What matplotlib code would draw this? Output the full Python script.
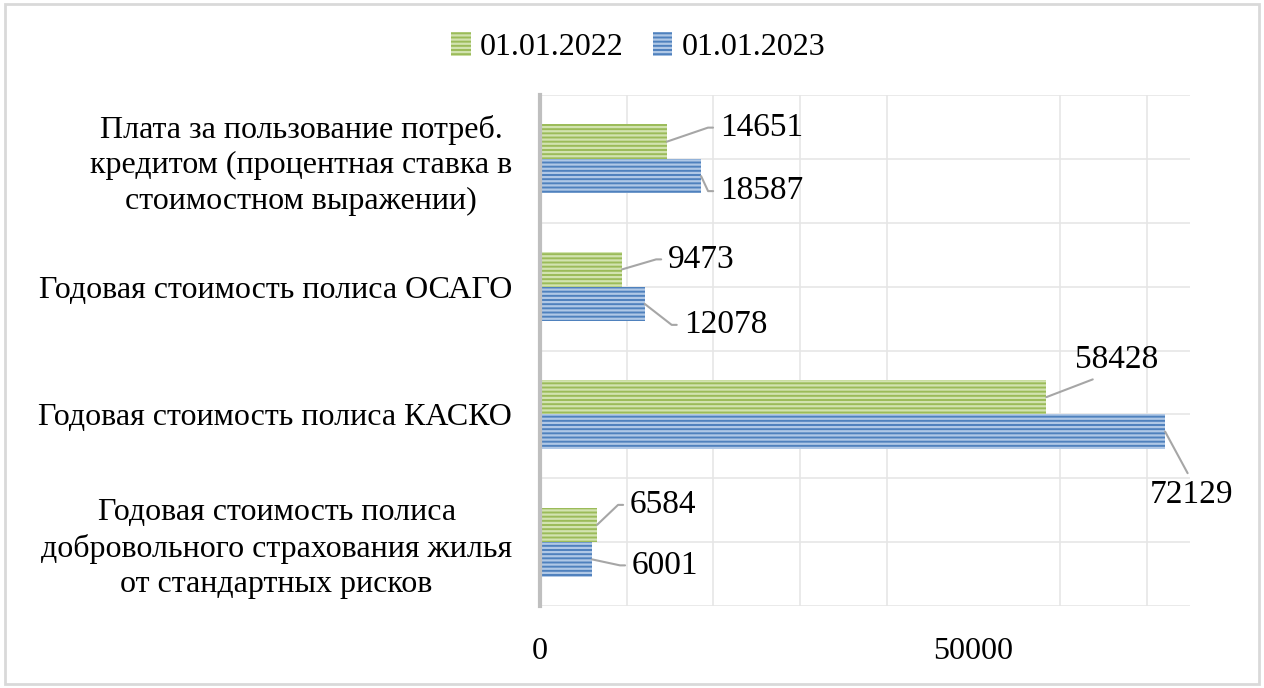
import math
import matplotlib.pyplot as plt
from matplotlib.patches import Rectangle
import numpy as np

plt.rcParams['font.family'] = ['Liberation Serif', 'DejaVu Serif']
plt.rcParams['hatch.linewidth'] = 1.6

categories = [
    "Годовая стоимость полиса\nдобровольного страхования жилья\nот стандартных рисков",
    "Годовая стоимость полиса КАСКО",
    "Годовая стоимость полиса ОСАГО",
    "Плата за пользование потреб.\nкредитом (процентная ставка в\nстоимостном выражении)",
]
series_names = ["01.01.2022", "01.01.2023"]
values_2022 = [6584, 58428, 9473, 14651]
values_2023 = [6001, 72129, 12078, 18587]

green, green_stripe = "#9bbb59", "#d2e3b0"
blue, blue_stripe = "#4f81bd", "#b0c8e6"

fig = plt.figure(figsize=(12.64, 6.88), dpi=100)
ax = fig.add_axes([540 / 1264, 1 - 606 / 688, 650 / 1264, 511 / 688])

y = np.arange(len(categories))
h = 0.27
b22 = ax.barh(y + h / 2, values_2022, height=h, color=green, edgecolor=green_stripe,
              linewidth=0, hatch="----", label=series_names[0], zorder=3)
b23 = ax.barh(y - h / 2, values_2023, height=h, color=blue, edgecolor=blue_stripe,
              linewidth=0, hatch="----", label=series_names[1], zorder=3)

ax.set_xlim(0, 75000)
ax.set_ylim(-0.5, 3.5)
ax.set_xticks([0, 50000])
ax.set_xticks(np.arange(10000, 75000, 10000), minor=True)
ax.set_yticks(y)
ax.set_yticklabels(categories, fontsize=23, multialignment="center", linespacing=1.28)
ax.set_yticks(np.arange(-0.5, 3.6, 0.5), minor=True)
ax.tick_params(axis="x", labelsize=23, length=0, pad=22, which="both")
ax.tick_params(axis="y", length=0, pad=20, which="both")
ax.grid(True, which="both", color="#e6e6e6", linewidth=1.2, zorder=0)
ax.grid(False, which="major", axis="x")
for s in ["top", "right", "bottom"]:
    ax.spines[s].set_visible(False)
ax.spines["left"].set_color("#bfbfbf")
ax.spines["left"].set_linewidth(3)
ax.spines["left"].set_zorder(4)

# data labels with leader lines: text offset in pixels from the bar end
side_labels = [
    (values_2022[3], y[3] + h / 2, (53, 14)),
    (values_2023[3], y[3] - h / 2, (19, -15)),
    (values_2022[2], y[2] + h / 2, (46, 10)),
    (values_2023[2], y[2] - h / 2, (39, -21)),
    (values_2022[0], y[0] + h / 2, (33, 20)),
    (values_2023[0], y[0] - h / 2, (40, -6)),
]
lead = dict(arrowstyle="-", color="#a6a6a6", lw=1.5, shrinkA=3, shrinkB=0)
for val, yy, (dx, dy) in side_labels:
    ang = math.degrees(math.atan2(dy, dx - 12))
    ax.annotate(str(val), xy=(val, yy), xytext=(dx, dy), textcoords="offset pixels",
                ha="left", va="center", fontsize=24,
                arrowprops=dict(lead, relpos=(0, 0.5),
                                connectionstyle=f"angle,angleA=0,angleB={ang},rad=0"))

# КАСКО labels sit above / below the bar ends
ax.annotate(str(values_2022[1]), xy=(values_2022[1], y[1] + h / 2), xytext=(70, 22),
            textcoords="offset pixels", ha="center", va="bottom", fontsize=24,
            arrowprops=dict(lead, relpos=(0.35, 0)))
ax.annotate(str(values_2023[1]), xy=(values_2023[1], y[1] - h / 2), xytext=(26, -48),
            textcoords="offset pixels", ha="center", va="top", fontsize=24,
            arrowprops=dict(lead, relpos=(0.5, 1)))

fig.legend(handles=[b22, b23], loc="center", bbox_to_anchor=(0.505, 1 - 47 / 688),
           ncol=2, frameon=False, fontsize=23, handlelength=0.6, handleheight=0.8,
           handletextpad=0.3, columnspacing=0.9)

fig.patches.append(Rectangle((5 / 1264, 4 / 688), 1254 / 1264, 680 / 688,
                             transform=fig.transFigure, fill=False,
                             edgecolor="#d9d9d9", linewidth=2))

fig.savefig("out.png", dpi=100)
